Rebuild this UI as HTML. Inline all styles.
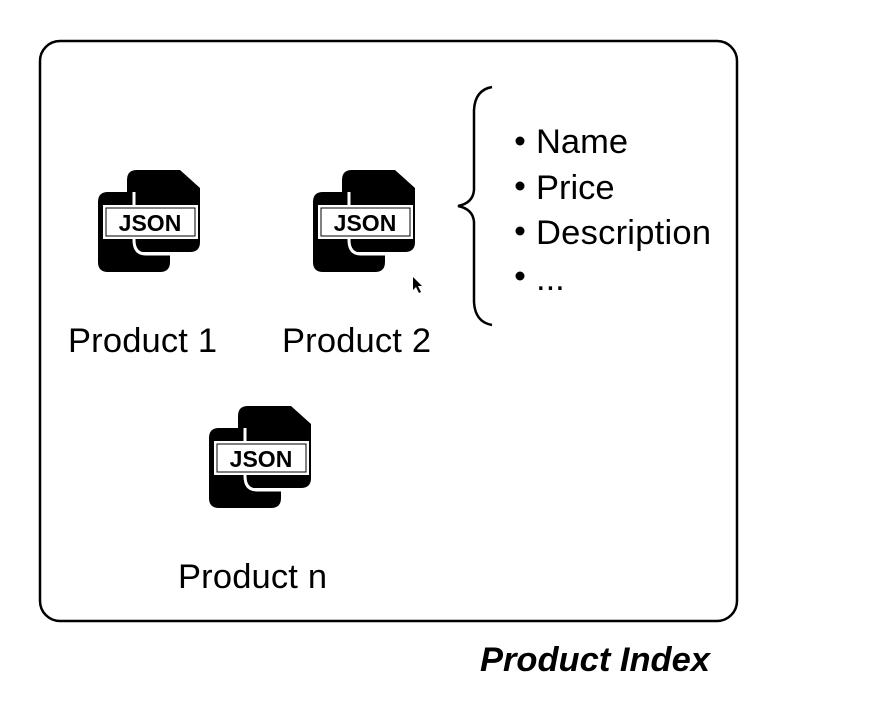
<!DOCTYPE html>
<html><head><style>
body{margin:0;background:#fff;}
svg{display:block;font-family:"Liberation Sans",sans-serif;}
</style></head><body>
<svg width="874" height="708" viewBox="0 0 874 708">
<defs>
<g id="ic">
<path d="M0 32 Q0 22 10 22 L36 22 L36 70 Q36 84 48 84 L72 84 L72 92 Q72 102 62 102 L10 102 Q0 102 0 92 Z" fill="#000"/>
<path d="M29 10 Q29 0 39 0 L82 0 L102 18 L102 72 Q102 82 92 82 L39 82 Q29 82 29 72 Z" fill="#000"/>
<path d="M36 22 L36 70 Q36 84 48 84 L72 84" fill="none" stroke="#fff" stroke-width="3"/>
<rect x="5" y="35" width="95" height="34" fill="#fff"/>
<rect x="8" y="38" width="89" height="28" fill="#fff" stroke="#000" stroke-width="1"/>
<text x="52" y="61" font-size="23" font-weight="bold" text-anchor="middle" fill="#000">JSON</text>
</g>
</defs>
<rect x="40" y="41" width="697" height="580" rx="20" fill="none" stroke="#000" stroke-width="2.5"/>
<use href="#ic" x="98" y="170"/>
<use href="#ic" x="313" y="170"/>
<use href="#ic" x="209" y="406"/>
<g font-size="34.5">
<text x="68" y="352" textLength="149">Product 1</text>
<text x="282" y="352" textLength="149">Product 2</text>
<text x="178" y="588" textLength="149">Product n</text>
</g>
<path d="M492 87 Q475 90 474 110 L474 190 Q473 203 458 206 Q473 209 474 222 L474 302 Q475 322 492 325" fill="none" stroke="#000" stroke-width="2.5"/>
<g font-size="34.5">
<circle cx="520" cy="141" r="4.5"/><text x="536" y="153" textLength="92">Name</text>
<circle cx="520" cy="186" r="4.5"/><text x="536" y="199">Price</text>
<circle cx="520" cy="231" r="4.5"/><text x="536" y="244" textLength="175">Description</text>
<circle cx="520" cy="276" r="4.5"/><text x="536" y="290">...</text>
</g>
<path d="M413 277 L413 290 L416 287 L419 293 L421 292 L418 286 L422 286 Z" fill="#000"/>
<text x="710" y="671" font-size="34.5" font-weight="bold" font-style="italic" text-anchor="end">Product Index</text>
</svg>
</body></html>
